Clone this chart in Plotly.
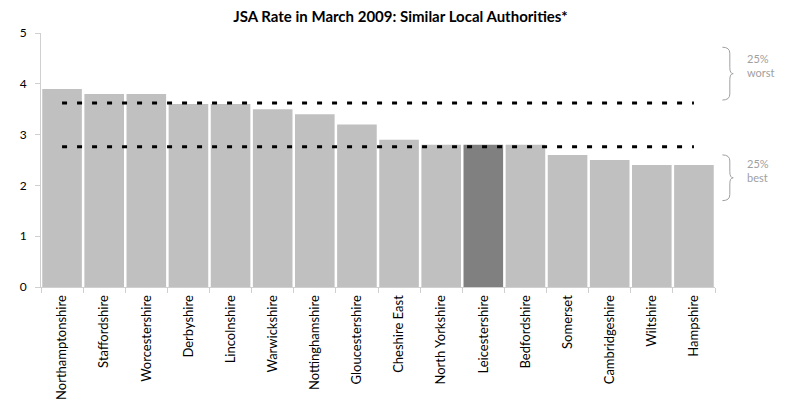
import plotly.graph_objects as go

categories = ["Northamptonshire", "Staffordshire", "Worcestershire", "Derbyshire",
              "Lincolnshire", "Warwickshire", "Nottinghamshire", "Gloucestershire",
              "Cheshire East", "North Yorkshire", "Leicestershire", "Bedfordshire",
              "Somerset", "Cambridgeshire", "Wiltshire", "Hampshire"]
values = [3.9, 3.8, 3.8, 3.6, 3.6, 3.5, 3.4, 3.2, 2.9, 2.8, 2.8, 2.8, 2.6, 2.5, 2.4, 2.4]
highlight = "Leicestershire"
upper_quartile = 3.62
lower_quartile = 2.76
y_ticks = [0, 1, 2, 3, 4, 5]

bar_colors = ["#808080" if c == highlight else "#C0C0C0" for c in categories]

fig = go.Figure()
fig.add_trace(go.Bar(x=categories, y=values, marker=dict(color=bar_colors, line=dict(width=0)),
                     showlegend=False, hoverinfo="x+y"))
for q in (upper_quartile, lower_quartile):
    fig.add_trace(go.Scatter(x=[categories[0], categories[-1]], y=[q, q], mode="lines",
                             line=dict(color="black", width=3, dash="5px,10px"),
                             showlegend=False, hoverinfo="skip"))

def brace(x0, xm, xt, yt, yb, d):
    ymid = (yt + yb) / 2
    return (f"M {x0},{yt} Q {xm},{yt} {xm},{yt-d} L {xm},{ymid+d} "
            f"Q {xm},{ymid} {xt},{ymid} Q {xm},{ymid} {xm},{ymid-d} "
            f"L {xm},{yb+d} Q {xm},{yb} {x0},{yb}")

shapes = [
    dict(type="path", xref="paper", yref="y", path=brace(1.011, 1.022, 1.027, 4.72, 3.68, 0.12),
         line=dict(color="#a0a0a0", width=1)),
    dict(type="path", xref="paper", yref="y", path=brace(1.011, 1.022, 1.027, 2.60, 1.70, 0.12),
         line=dict(color="#a0a0a0", width=1)),
]

fig.update_layout(
    width=785, height=399,
    margin=dict(l=33, r=78, t=25, b=120, autoexpand=False),
    paper_bgcolor="white", plot_bgcolor="white",
    bargap=0.06,
    font=dict(family="Lato, Noto Sans, sans-serif", size=12, color="black"),
    title=dict(text="<b>JSA Rate in March 2009: Similar Local Authorities*</b>",
               x=0.5, xanchor="center", y=0.977, yanchor="middle",
               font=dict(family="Lato, sans-serif", size=15, color="black")),
    shapes=shapes,
    annotations=[
        dict(text="25%<br>worst", xref="paper", yref="y", x=1.045, y=4.37, xanchor="left",
             yanchor="middle", showarrow=False, align="left",
             font=dict(size=11, color="#a0a0a0")),
        dict(text="25%<br>best", xref="paper", yref="y", x=1.045, y=2.30, xanchor="left",
             yanchor="middle", showarrow=False, align="left",
             font=dict(size=11, color="#a0a0a0")),
    ],
    xaxis=dict(tickangle=-90, showline=True, linecolor="#d0d0d0", linewidth=1,
               ticks="outside", tickson="boundaries", ticklen=5, tickcolor="#d0d0d0",
               showgrid=False, range=[-0.5, len(categories) - 0.5],
               ticklabelstandoff=2, automargin=False,
               tickfont=dict(size=13)),
    yaxis=dict(range=[0, 5], tickvals=y_ticks, showline=True, linecolor="#d0d0d0",
               linewidth=1, ticks="outside", ticklen=5, tickcolor="#d0d0d0",
               showgrid=False, zeroline=False, ticklabelstandoff=6, automargin=False,
               tickfont=dict(size=12)),
)

fig.write_html("out.html")
